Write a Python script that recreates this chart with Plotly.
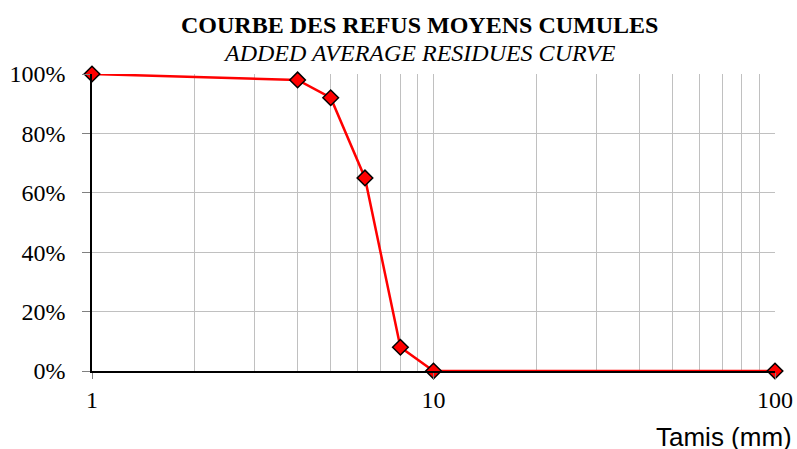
import plotly.graph_objects as go

sieve_mm = [1, 4, 5, 6.3, 8, 10, 100]
refus_pct = [100, 98, 92, 65, 8, 0, 0]
x_major = [1, 10, 100]
x_minor = [2, 3, 4, 5, 6, 7, 8, 9, 20, 30, 40, 50, 60, 70, 80, 90]
y_ticks = [0, 20, 40, 60, 80, 100]
y_labels = ["0%", "20%", "40%", "60%", "80%", "100%"]

fig = go.Figure()
fig.add_trace(go.Scatter(
    x=sieve_mm, y=refus_pct, mode="lines+markers",
    line=dict(color="#ff0000", width=2.5),
    marker=dict(symbol="diamond", size=12, color="#ff0000",
                line=dict(color="#000000", width=1.5)),
    cliponaxis=False, showlegend=False,
))

serif = "Liberation Serif, Times New Roman, serif"
grid = "#c0c0c0"
fig.update_layout(
    width=797, height=449,
    margin=dict(l=92, r=22, t=74, b=78),
    paper_bgcolor="white", plot_bgcolor="white",
    xaxis=dict(
        type="log", range=[0, 2], automargin=False,
        tickvals=x_major, ticktext=["1", "10", "100"],
        showgrid=True, gridcolor=grid, gridwidth=1,
        minor=dict(tickvals=x_minor, showgrid=True, gridcolor=grid, gridwidth=1, ticks=""),
        ticks="outside", ticklen=6, tickcolor="#808080",
        showline=True, linecolor="black", linewidth=1.5,
        tickfont=dict(family=serif, size=24, color="black"),
        ticklabelstandoff=0,
        zeroline=False,
    ),
    yaxis=dict(
        range=[0, 100], automargin=False,
        tickvals=y_ticks, ticktext=y_labels,
        showgrid=True, gridcolor=grid, gridwidth=1,
        ticks="outside", ticklen=8, tickcolor="#808080",
        showline=True, linecolor="black", linewidth=1.5,
        tickfont=dict(family=serif, size=24, color="black"),
        ticklabelstandoff=12,
        zeroline=False,
    ),
    annotations=[
        dict(text="<b>COURBE DES REFUS MOYENS CUMULES</b>", xref="paper", yref="paper",
             x=0.48, y=1.0, yshift=49, xanchor="center", yanchor="middle", showarrow=False,
             font=dict(family=serif, size=24, color="black")),
        dict(text="<i>ADDED AVERAGE RESIDUES CURVE</i>", xref="paper", yref="paper",
             x=0.48, y=1.0, yshift=21, xanchor="center", yanchor="middle", showarrow=False,
             font=dict(family=serif, size=24, color="black")),
        dict(text="Tamis (mm)", xref="paper", yref="paper",
             x=1.0, xshift=19, y=0, yshift=-66, xanchor="right", yanchor="middle", showarrow=False,
             font=dict(family="Liberation Sans, Arial, sans-serif", size=26, color="black")),
    ],
)

fig.write_html(
    "out.html",
    config={"displayModeBar": False},
    post_script="document.body.style.margin='0';document.body.style.overflow='hidden';",
)
